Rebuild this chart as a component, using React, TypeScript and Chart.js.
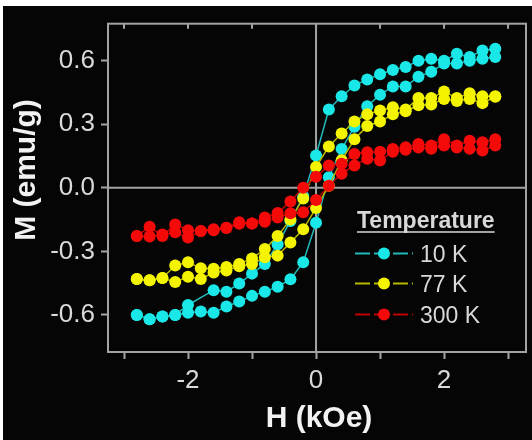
import React, { useEffect, useRef } from 'react';
import { Chart, registerables } from 'chart.js';

Chart.register(...registerables);

// Applied field H (kOe): descending branch then ascending branch
const fieldDown = [2.8, 2.6, 2.4, 2.2, 2.0, 1.8, 1.6, 1.4, 1.2, 1.0, 0.8, 0.6, 0.4, 0.2, 0.0, -0.2, -0.4, -0.6, -0.8, -1.0, -1.2, -1.4, -1.6, -1.8, -2.0, -2.2, -2.4, -2.6, -2.8];
const fieldUp = [-2.8, -2.6, -2.4, -2.2, -2.0, -1.8, -1.6, -1.4, -1.2, -1.0, -0.8, -0.6, -0.4, -0.2, 0.0, 0.2, 0.4, 0.6, 0.8, 1.0, 1.2, 1.4, 1.6, 1.8, 2.0, 2.2, 2.4, 2.6, 2.8];

// Magnetization M (emu/g)
const m10Down = [0.657, 0.649, 0.618, 0.633, 0.600, 0.610, 0.600, 0.571, 0.556, 0.536, 0.512, 0.483, 0.432, 0.370, 0.153, -0.040, -0.157, -0.266, -0.359, -0.405, -0.452, -0.490, -0.483, null, -0.553, -0.600, -0.607, -0.620, -0.600];
const m10Up = [-0.600, -0.620, -0.607, -0.600, -0.590, -0.584, -0.590, -0.560, -0.537, -0.510, -0.490, -0.467, -0.432, -0.351, -0.165, 0.050, 0.184, 0.288, 0.385, 0.440, 0.478, 0.478, 0.525, 0.548, 0.587, 0.587, 0.600, 0.610, 0.618];

const m77Down = [0.432, 0.432, 0.447, 0.424, 0.455, 0.424, 0.424, 0.370, 0.380, 0.365, 0.347, 0.313, 0.257, 0.195, 0.099, -0.050, -0.150, -0.227, -0.289, -0.333, -0.359, -0.374, -0.382, -0.380, -0.351, -0.367, -0.426, -0.436, -0.430];
const m77Up = [-0.430, -0.436, -0.426, -0.444, -0.420, -0.430, -0.400, -0.390, -0.370, -0.360, -0.328, -0.320, -0.258, -0.196, -0.095, 0.010, 0.130, 0.230, 0.292, 0.313, 0.347, 0.362, 0.390, 0.393, 0.420, 0.410, 0.420, 0.400, 0.430];

const m300Down = [0.230, 0.215, 0.222, 0.200, 0.230, 0.200, 0.207, 0.192, 0.184, 0.170, 0.168, 0.160, 0.114, 0.106, 0.052, 0.000, -0.064, -0.119, -0.140, -0.168, -0.162, -0.188, -0.196, -0.204, -0.200, -0.173, -0.227, -0.184, -0.227];
const m300Up = [-0.227, -0.230, -0.220, -0.210, -0.235, -0.204, -0.200, -0.190, -0.170, -0.168, -0.160, -0.140, -0.120, -0.115, -0.057, 0.010, 0.067, 0.106, 0.137, 0.129, 0.170, 0.180, 0.190, 0.185, 0.200, 0.190, 0.185, 0.176, 0.200];

const seriesLabels = ['10 K', '77 K', '300 K'];
const pointColors = ['#1ae8e8', '#f4f400', '#f50a0a'];
const lineColors = ['#22b8b8', '#b8b800', '#c00000'];
const xMajorTicks = [-3, -2, -1, 0, 1, 2, 3];

const FONT = '"Liberation Sans", Arial, Helvetica, sans-serif';

function loop(mDown: (number | null)[], mUp: (number | null)[]) {
  return [
    ...fieldDown.map((x, i) => ({ x, y: mDown[i] })),
    ...fieldUp.map((x, i) => ({ x, y: mUp[i] })),
  ];
}

const decorPlugin = {
  id: 'decor',
  beforeDatasetsDraw(chart: any) {
    const { ctx, chartArea: a, scales } = chart;
    const xs = scales.x;
    const ys = scales.y;
    ctx.save();
    ctx.strokeStyle = '#a3a3a3';
    ctx.lineWidth = 2;
    const x0 = xs.getPixelForValue(0);
    const y0 = ys.getPixelForValue(0);
    ctx.beginPath();
    ctx.moveTo(x0, a.top);
    ctx.lineTo(x0, a.bottom);
    ctx.moveTo(a.left, y0);
    ctx.lineTo(a.right, y0);
    ctx.stroke();
    ctx.strokeRect(a.left, a.top, a.right - a.left, a.bottom - a.top);
    ctx.beginPath();
    for (const v of xMajorTicks) {
      const px = xs.getPixelForValue(v);
      ctx.moveTo(px, a.top);
      ctx.lineTo(px, a.top + 5);
    }
    ctx.stroke();
    ctx.restore();
  },
  afterDraw(chart: any) {
    const { ctx } = chart;
    ctx.save();
    // axis titles
    ctx.fillStyle = '#f2f2f2';
    ctx.font = `bold 30px ${FONT}`;
    ctx.textAlign = 'center';
    ctx.textBaseline = 'alphabetic';
    ctx.fillText('H (kOe)', 316, 421);
    ctx.save();
    ctx.translate(32, 164);
    ctx.rotate(-Math.PI / 2);
    ctx.fillText('M (emu/g)', 0, 0);
    ctx.restore();

    // legend
    ctx.textAlign = 'left';
    ctx.fillStyle = '#d8d8d8';
    ctx.font = `bold 23px ${FONT}`;
    const title = 'Temperature';
    ctx.fillText(title, 354, 222);
    const tw = ctx.measureText(title).width;
    ctx.strokeStyle = '#d8d8d8';
    ctx.lineWidth = 1.5;
    ctx.beginPath();
    ctx.moveTo(354, 226);
    ctx.lineTo(354 + tw, 226);
    ctx.stroke();

    ctx.font = `23px ${FONT}`;
    const baselines = [256, 286, 317];
    seriesLabels.forEach((lab, i) => {
      const by = baselines[i];
      const cy = by - 8.5;
      ctx.strokeStyle = lineColors[i];
      ctx.lineWidth = 2;
      ctx.setLineDash([15, 4]);
      ctx.beginPath();
      ctx.moveTo(352, cy);
      ctx.lineTo(410, cy);
      ctx.stroke();
      ctx.setLineDash([]);
      ctx.fillStyle = pointColors[i];
      ctx.beginPath();
      ctx.arc(381, cy, 6, 0, Math.PI * 2);
      ctx.fill();
      ctx.fillStyle = '#d8d8d8';
      ctx.fillText(lab, 417, by);
    });
    ctx.restore();
  },
};

export default function App() {
  const canvasRef = useRef<HTMLCanvasElement | null>(null);

  useEffect(() => {
    const canvas = canvasRef.current;
    if (!canvas) return;
    const series = [loop(m10Down, m10Up), loop(m77Down, m77Up), loop(m300Down, m300Up)];
    const chart = new Chart(canvas, {
      type: 'scatter',
      data: {
        datasets: series.map((d, i) => ({
          label: seriesLabels[i],
          data: d as any,
          showLine: true,
          spanGaps: true,
          borderColor: lineColors[i],
          borderWidth: 1.5,
          backgroundColor: pointColors[i],
          pointBackgroundColor: pointColors[i],
          pointBorderWidth: 0,
          pointRadius: 6,
          pointHoverRadius: 6,
          tension: 0,
          order: 3 - i,
        })),
      },
      options: {
        animation: false,
        responsive: false,
        devicePixelRatio: 1,
        layout: { padding: { top: 12, right: 1, left: 0, bottom: 0 } },
        plugins: {
          legend: { display: false },
          tooltip: { enabled: false },
        },
        scales: {
          x: {
            type: 'linear',
            min: -3.25,
            max: 3.28,
            grid: {
              display: true,
              drawOnChartArea: false,
              drawTicks: true,
              tickLength: 7,
              tickColor: '#a3a3a3',
              tickWidth: 2,
            },
            border: { display: false },
            ticks: {
              stepSize: 1,
              includeBounds: false,
              autoSkip: false,
              maxRotation: 0,
              padding: 6,
              color: '#d9d9d9',
              font: { family: FONT, size: 26 },
              callback: (v: any) => (Number(v) % 2 === 0 ? String(v) : ''),
            },
            afterFit: (s: any) => {
              s.height = 88;
            },
          },
          y: {
            type: 'linear',
            min: -0.775,
            max: 0.775,
            grid: {
              display: true,
              drawOnChartArea: false,
              drawTicks: true,
              tickLength: 7,
              tickColor: '#a3a3a3',
              tickWidth: 2,
            },
            border: { display: false },
            ticks: {
              stepSize: 0.3,
              includeBounds: false,
              padding: 6,
              color: '#d9d9d9',
              font: { family: FONT, size: 26, lineHeight: 0.9 },
              callback: (v: any) => {
                const n = Math.abs(Number(v)) < 1e-9 ? 0 : Number(v);
                return n.toFixed(1);
              },
            },
            afterFit: (s: any) => {
              s.width = 105;
            },
          },
        },
      } as any,
      plugins: [decorPlugin],
    });
    return () => chart.destroy();
  }, []);

  return (
    <div style={{ position: 'fixed', left: 0, top: 0, width: 532, height: 440, background: '#ffffff', overflow: 'hidden' }}>
      <canvas
        ref={canvasRef}
        width={529}
        height={434}
        style={{ position: 'absolute', left: 3, top: 6, width: 529, height: 434, background: '#050505' }}
      />
    </div>
  );
}
